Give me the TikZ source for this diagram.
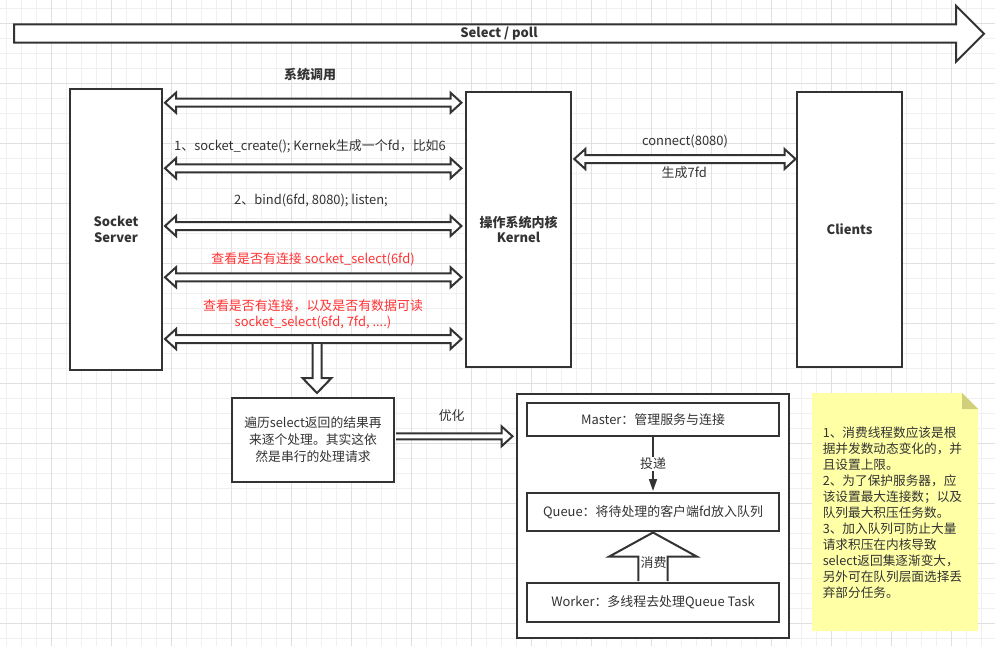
\documentclass[tikz,border=0pt]{standalone}
\usepackage{fontspec}
\setmainfont{Noto Sans CJK SC}
\usetikzlibrary{calc,arrows.meta}
\definecolor{ink}{HTML}{333333}
\definecolor{redtxt}{HTML}{FF3333}
\definecolor{gridmin}{HTML}{F0F0F0}
\definecolor{gridmaj}{HTML}{E0E0E0}
\definecolor{notefill}{HTML}{FFFFA6}
\definecolor{notefold}{HTML}{CFCF7C}
\newcommand\dblarr[5]{% start, end, head half, shaft half, head length
  \draw[blk] (#1) -- ($(#1)+(#5,-#3)$) -- ($(#1)+(#5,-#4)$) -- ($(#2)+(-#5,-#4)$) -- ($(#2)+(-#5,-#3)$) -- (#2)
    -- ($(#2)+(-#5,#3)$) -- ($(#2)+(-#5,#4)$) -- ($(#1)+(#5,#4)$) -- ($(#1)+(#5,#3)$) -- cycle;}
\begin{document}
\begin{tikzpicture}[x=0.75pt,y=-0.75pt,
  box/.style={draw=ink,line width=1.5pt,fill=white,inner sep=0pt,text=ink,align=center},
  blk/.style={draw=ink,line width=1.5pt,fill=white,line join=miter},
  lbl/.style={text=ink,font=\fontsize{9.7}{12}\selectfont,inner sep=0pt,align=center},
  bold/.style={text=ink,font=\fontsize{9.75}{12}\selectfont\bfseries,inner sep=0pt,align=center},
  redlbl/.style={lbl,text=redtxt,font=\fontsize{9.7}{11.8}\selectfont}]
\useasboundingbox (0,0) rectangle (995,646);
\fill[white] (0,0) rectangle (995,646);
% grid
\foreach \x in {6.7,21.7,...,995} \draw[gridmin,line width=0.75pt] (\x,0) -- (\x,646);
\foreach \y in {8.3,23.3,...,646} \draw[gridmin,line width=0.75pt] (0,\y) -- (995,\y);
\foreach \x in {51.7,111.7,...,995} \draw[gridmaj,line width=0.75pt] (\x,0) -- (\x,646);
\foreach \y in {23.3,83.3,...,646} \draw[gridmaj,line width=0.75pt] (0,\y) -- (995,\y);

% top arrow
\draw[blk] (14,24.3) -- (956,24.3) -- (956,5.7) -- (984,33.7) -- (956,61.7) -- (956,42.7) -- (14,42.7) -- cycle;
\node[bold] (sel) at (499,34) {Select / poll};
\node[bold] (sys) at (310,75) {系统调用};

% main boxes
\node[box,bold,minimum width=69pt,minimum height=210.75pt] (srv) at (116,229.5) {Socket\\[-0.3pt]Server};
\node[box,bold,minimum width=78.75pt,minimum height=206.25pt] (kern) at (518.5,229.5) {操作系统内核\\[-0.3pt]Kernel};
\node[box,bold,minimum width=78.75pt,minimum height=206.25pt] (cli) at (849.5,229.5) {Clients};

% row levels
\coordinate (r1) at (0,102.7);
\coordinate (r2) at (0,168.3);
\coordinate (r3) at (0,226);
\coordinate (r4) at (0,277.3);
\coordinate (r5) at (0,339);
\coordinate (rc) at (0,159);
\foreach \r in {1,...,5}{
  \coordinate (a\r) at ($(srv.east|-r\r)+(2,0)$);
  \coordinate (b\r) at ($(kern.west|-r\r)+(-3.5,0)$);
  \dblarr{a\r}{b\r}{10}{4}{11}
}
\coordinate (ac) at ($(kern.east|-rc)+(2.3,0)$);
\coordinate (bc) at ($(cli.west|-rc)+(-0.5,0)$);
\dblarr{ac}{bc}{10}{4}{11}

% labels
\node[lbl] (l1) at (310,146.7) {1、socket\_create(); Kernek生成一个fd，比如6};
\node[lbl] (l2) at (311,200) {2、bind(6fd, 8080); listen;};
\node[redlbl] (l3) at (313,259.3) {查看是否有连接 socket\_select(6fd)};
\node[redlbl] (l4) at (313,314) {查看是否有连接，以及是否有数据可读\\socket\_select(6fd, 7fd, ....)};
\node[lbl] (lc1) at (685,141.7) {connect(8080)};
\node[lbl] (lc2) at (684.3,172.7) {生成7fd};

% loop box
\node[box,lbl,draw=ink,line width=1.5pt,fill=white,minimum width=121.5pt,minimum height=63pt,font=\fontsize{9.6}{12.75}\selectfont] (loop) at (313,440) {遍历select返回的结果再\\来逐个处理。其实这依\\然是串行的处理请求};

% down arrow
\coordinate (d0) at (317,344.2);
\coordinate (d1) at ($(loop.north-|d0)+(0,-4)$);
\fill[white] ($(d0)+(-4.5,0)$) -- ($(d1)+(-4.5,-15)$) -- ($(d1)+(-14.5,-15)$) -- (d1) -- ($(d1)+(14.5,-15)$) -- ($(d1)+(4.5,-15)$) -- ($(d0)+(4.5,0)$) -- cycle;
\draw[blk,fill=none] ($(d0)+(-4.5,-1)$) -- ($(d1)+(-4.5,-15)$) -- ($(d1)+(-14.5,-15)$) -- (d1) -- ($(d1)+(14.5,-15)$) -- ($(d1)+(4.5,-15)$) -- ($(d0)+(4.5,-1)$);

% container
\node[box,minimum width=204pt,minimum height=183pt] (cont) at (653,516) {};
\node[box,lbl,draw=ink,line width=1.5pt,fill=white,minimum width=189pt,minimum height=24.75pt] (master) at (653,419.5) {Master：管理服务与连接};
\node[box,lbl,draw=ink,line width=1.5pt,fill=white,minimum width=189pt,minimum height=28.5pt] (queue) at (653,512) {Queue：将待处理的客户端fd放入队列};
\node[box,lbl,draw=ink,line width=1.5pt,fill=white,minimum width=189pt,minimum height=29.25pt] (worker) at (653,602.5) {Worker：多线程去处理Queue Task};

% optimise arrow
\coordinate (ry) at (0,436.3);
\coordinate (o0) at ($(loop.east|-ry)+(1,0)$);
\coordinate (o1) at ($(cont.west|-ry)+(-3.5,0)$);
\draw[blk] ($(o0)+(0,-3)$) -- ($(o1)+(-11,-3)$) -- ($(o1)+(-11,-10)$) -- (o1) -- ($(o1)+(-11,10)$) -- ($(o1)+(-11,3)$) -- ($(o0)+(0,3)$);
\node[lbl] (opt) at (451.7,416) {优化};

% master -> queue
\draw[ink,line width=1.2pt,-{Triangle[length=9pt,width=6pt]}] (master.south) -- ($(queue.north)+(0,-1)$) node[lbl,pos=0.5,fill=white,inner sep=1pt] (tou) {投递};

% worker -> queue block arrow
\coordinate (u1) at ($(queue.south)+(0,0.5)$);
\draw[blk] ($(worker.north)+(-14.7,-1)$) -- ($(u1)+(-14.7,24)$) -- ($(u1)+(-43.7,24)$) -- (u1) -- ($(u1)+(43.7,24)$) -- ($(u1)+(14.7,24)$) -- ($(worker.north)+(14.7,-1)$);
\node[lbl] (xf) at (653.5,563) {消费};

% note
\fill[notefill] (812,393) -- (962,393) -- (978,409) -- (978,631) -- (812,631) -- cycle;
\fill[notefold] (962,393) -- (978,409) -- (962,409) -- cycle;
\node[lbl,align=left,anchor=west,font=\fontsize{9.5}{12}\selectfont] (note) at (822.5,513) {1、消费线程数应该是根\\据并发数动态变化的，并\\且设置上限。\\2、为了保护服务器，应\\该设置最大连接数；以及\\队列最大积压任务数。\\3、加入队列可防止大量\\请求积压在内核导致\\select返回集逐渐变大，\\另外可在队列层面选择丢\\弃部分任务。};
\end{tikzpicture}
\end{document}
